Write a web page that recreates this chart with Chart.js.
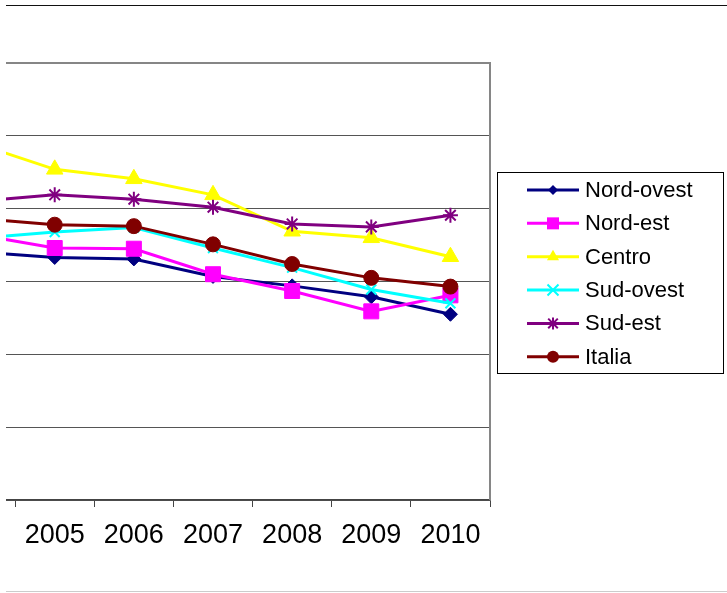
<!DOCTYPE html>
<html><head><meta charset="utf-8">
<script src="https://cdn.jsdelivr.net/npm/chart.js@4/dist/chart.umd.min.js"></script>
<style>
html,body{margin:0;padding:0;background:#fff;width:727px;height:593px;overflow:hidden;}
#clip{position:absolute;left:6px;top:0;width:721px;height:593px;overflow:hidden;}
#c{position:absolute;left:-76px;top:0;}
#topline{position:absolute;left:6px;top:5px;width:721px;height:1px;background:#111;}
#botline{position:absolute;left:6px;top:591px;width:721px;height:1px;background:#ccc;}
</style></head><body>
<div id="clip"><canvas id="c" width="797" height="593"></canvas></div>
<div id="topline"></div><div id="botline"></div>
<script>
const years = ['2004','2005','2006','2007','2008','2009','2010'];
const seriesNames = ['Nord-ovest','Nord-est','Centro','Sud-ovest','Sud-est','Italia'];
const nordOvest = [34.1, 33.3, 33.1, 30.7, 29.4, 27.9, 25.5];
const nordEst   = [36.5, 34.6, 34.5, 31.0, 28.7, 25.9, 28.1];
const centro    = [49.0, 45.4, 44.1, 41.9, 36.9, 36.0, 33.4];
const sudOvest  = [35.9, 36.8, 37.4, 34.6, 31.9, 28.9, 27.0];
const sudEst    = [41.0, 41.9, 41.3, 40.2, 37.9, 37.5, 39.1];
const italia    = [38.7, 37.8, 37.6, 35.1, 32.4, 30.5, 29.3];
const yMin = 0, yMax = 60, yStep = 10;

const styles = [
  {color:'#000080', pointStyle:'rectRot', r:7, lr:5},
  {color:'#FF00FF', pointStyle:'rect', r:10.6, lr:6},
  {color:'#FFFF00', pointStyle:'triangle', r:9.5, lr:7},
  {color:'#00FFFF', pointStyle:'crossRot', r:7, lr:5.5},
  {color:'#800080', pointStyle:'star', r:7.5, lr:6},
  {color:'#800000', pointStyle:'circle', r:7.5, lr:6}
];
const values = [nordOvest, nordEst, centro, sudOvest, sudEst, italia];

const datasets = values.map((v,i)=>({
  label: seriesNames[i],
  data: v,
  borderColor: styles[i].color,
  backgroundColor: styles[i].color,
  borderWidth: 3,
  pointStyle: styles[i].pointStyle,
  pointRadius: styles[i].r,
  pointBorderWidth: (styles[i].pointStyle==='crossRot'||styles[i].pointStyle==='star') ? 2 : 1,
  pointBackgroundColor: styles[i].color,
  pointBorderColor: styles[i].color,
  tension: 0,
  fill: false,
  order: values.length - 1 - i
}));

const OFF = 70; // canvas page-left offset (canvas x = page x + OFF)

function legendMarker(ctx, style, x, y, r, color){
  ctx.save();
  ctx.fillStyle = color; ctx.strokeStyle = color; ctx.lineWidth = 2;
  ctx.beginPath();
  if (style==='rectRot'){ ctx.moveTo(x,y-r);ctx.lineTo(x+r,y);ctx.lineTo(x,y+r);ctx.lineTo(x-r,y);ctx.closePath();ctx.fill(); }
  else if (style==='rect'){ ctx.rect(x-r,y-r,2*r,2*r); ctx.fill(); }
  else if (style==='triangle'){ ctx.moveTo(x,y-r);ctx.lineTo(x+r*0.866,y+r*0.5);ctx.lineTo(x-r*0.866,y+r*0.5);ctx.closePath();ctx.fill(); }
  else if (style==='crossRot'){ ctx.moveTo(x-r,y-r);ctx.lineTo(x+r,y+r);ctx.moveTo(x+r,y-r);ctx.lineTo(x-r,y+r);ctx.stroke(); }
  else if (style==='star'){ const a=r*0.8; ctx.moveTo(x-a,y-a);ctx.lineTo(x+a,y+a);ctx.moveTo(x+a,y-a);ctx.lineTo(x-a,y+a);ctx.moveTo(x,y-r);ctx.lineTo(x,y+r);ctx.stroke(); }
  else { ctx.arc(x,y,r,0,Math.PI*2); ctx.fill(); }
  ctx.restore();
}

const decor = {
  id:'decor',
  afterDraw(chart){
    const ctx = chart.ctx, a = chart.chartArea;
    ctx.save();
    ctx.strokeStyle = '#868686'; ctx.lineWidth = 2;
    ctx.beginPath();
    ctx.moveTo(a.left, a.top); ctx.lineTo(a.right, a.top); ctx.lineTo(a.right, a.bottom);
    ctx.stroke();
    const bx = 497 + OFF, by = 172.5, bw = 226, bh = 201;
    ctx.strokeStyle = '#000'; ctx.lineWidth = 1;
    ctx.strokeRect(bx+0.5, by, bw, bh);
    ctx.font = '22px "Liberation Sans", Arial, sans-serif';
    ctx.textBaseline = 'middle'; ctx.textAlign = 'left';
    chart.data.datasets.forEach((ds,i)=>{
      const y = 190 + i*33.35;
      ctx.strokeStyle = ds.borderColor; ctx.lineWidth = 3;
      ctx.beginPath(); ctx.moveTo(527+OFF, y); ctx.lineTo(579+OFF, y); ctx.stroke();
      legendMarker(ctx, styles[i].pointStyle, 553+OFF, y, styles[i].lr, ds.borderColor);
      ctx.fillStyle = '#000';
      ctx.fillText(ds.label, 585+OFF, y+1);
    });
    ctx.restore();
  }
};

new Chart(document.getElementById('c'), {
  type:'line',
  data:{ labels: years, datasets },
  options:{
    responsive:false, animation:false, devicePixelRatio:1,
    layout:{ autoPadding:false, padding:{ left:6, right:237, top:63, bottom:0 } },
    plugins:{ legend:{display:false}, tooltip:{enabled:false} },
    scales:{
      x:{
        offset:true,
        grid:{ offset:true, drawOnChartArea:false, drawTicks:true, tickLength:7, color:'#444', lineWidth:1 },
        border:{ display:true, color:'#444', width:1.5 },
        ticks:{ color:'#000', padding:12, font:{ family:'"Liberation Sans", Arial, sans-serif', size:27 }, maxRotation:0, autoSkip:false },
        afterFit(s){ s.height = 93; s.paddingLeft = 0; s.paddingRight = 0; }
      },
      y:{
        min:yMin, max:yMax,
        ticks:{ display:false, stepSize:yStep },
        grid:{ drawTicks:false, color:'#555', lineWidth:1 },
        border:{ display:false },
        afterFit(s){ s.width = 0; }
      }
    }
  },
  plugins:[decor]
});
</script>
</body></html>
